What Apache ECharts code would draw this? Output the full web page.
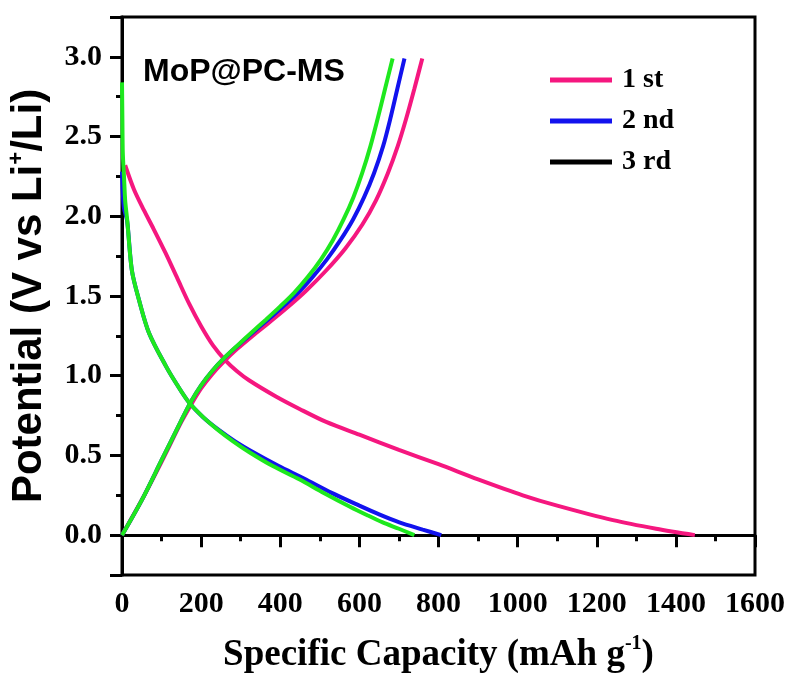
<!DOCTYPE html>
<html>
<head>
<meta charset="utf-8">
<script src="https://cdn.jsdelivr.net/npm/echarts@6/dist/echarts.min.js"></script>
<style>
html,body{margin:0;padding:0;background:#fff;}
#chart{width:795px;height:673px;}
</style>
</head>
<body>
<div id="chart"></div>
<script>
// ---- data (capacity mAh/g, potential V) ----
const seriesNames = ['1 st', '2 nd', '3 rd'];
const cycle1Discharge = [[8,2.32],[30,2.17],[55,2.04],[80,1.92],[110,1.77],[140,1.61],[170,1.45],[200,1.31],[230,1.19],[260,1.10],[290,1.03],[322,0.97],[389,0.87],[450,0.79],[516,0.71],[600,0.63],[700,0.535],[800,0.445],[900,0.35],[1013,0.25],[1100,0.185],[1241,0.094],[1350,0.04],[1448,0.0]];
const cycle1Charge = [[0,0.0],[50,0.22],[100,0.46],[150,0.71],[175,0.82],[200,0.92],[228,1.01],[258,1.09],[292,1.17],[330,1.25],[370,1.33],[414,1.42],[464,1.53],[516,1.66],[565,1.80],[608,1.95],[642,2.10],[672,2.27],[697,2.44],[718,2.61],[739,2.80],[759,2.99]];
const cycle2Discharge = [[0,2.28],[2,2.15],[5,2.05],[13,1.97],[25,1.66],[43,1.475],[68,1.27],[111,1.06],[140,0.94],[170,0.83],[205,0.74],[242,0.665],[285,0.59],[332,0.52],[395,0.435],[460,0.355],[530,0.265],[600,0.185],[650,0.13],[701,0.08],[760,0.035],[807,0.0]];
const cycle2Charge = [[0,0.0],[50,0.22],[100,0.47],[150,0.72],[175,0.84],[200,0.94],[228,1.03],[258,1.11],[293,1.19],[330,1.27],[368,1.35],[405,1.43],[445,1.52],[482,1.62],[518,1.73],[552,1.85],[584,1.98],[612,2.12],[637,2.27],[660,2.44],[678,2.61],[696,2.80],[714,2.99]];
const cycle3Discharge = [[0,2.84],[1,2.6],[2,2.4],[5,2.25],[8,2.1],[13,1.98],[25,1.66],[43,1.475],[68,1.27],[111,1.06],[140,0.94],[170,0.83],[205,0.74],[240,0.665],[280,0.59],[322,0.52],[380,0.435],[448,0.35],[510,0.265],[575,0.18],[620,0.125],[659,0.08],[700,0.04],[739,0.0]];
const cycle3Charge = [[0,0.0],[50,0.22],[100,0.47],[150,0.72],[175,0.84],[200,0.94],[228,1.03],[258,1.11],[292,1.19],[327,1.27],[363,1.35],[398,1.43],[435,1.52],[470,1.62],[503,1.73],[533,1.85],[560,1.98],[585,2.12],[607,2.27],[628,2.44],[646,2.61],[665,2.80],[684,2.99]];
const xMajorTicks = [0,200,400,600,800,1000,1200,1400,1600];
const yLabelTicks = [0,0.5,1.0,1.5,2.0,2.5,3.0];
const yMajorTicks = [-0.25,0,0.5,1.0,1.5,2.0,2.5,3.0,3.25];
const yMinorTicks = [0.25,0.75,1.25,1.75,2.25,2.75];

const colors = ['#f5177f','#1212ee','#1ee81e'];
const serif = 'Liberation Serif';
const sans = 'Liberation Sans';

const chart = echarts.init(document.getElementById('chart'), null, {renderer:'canvas'});

function line(name, data, color) {
  return {
    type:'line', name:name, data:data, xAxisIndex:0, yAxisIndex:0,
    showSymbol:false, smooth:0.3, lineStyle:{color:color,width:4},
    itemStyle:{color:color}, z:3
  };
}

const axisLineStyle = {show:true, lineStyle:{color:'#000', width:3}};

const option = {
  animation:false,
  backgroundColor:'#fff',
  grid:{left:122, right:40, top:17, bottom:98, show:true, borderColor:'#000', borderWidth:3,
        backgroundColor:'transparent', outerBoundsMode:'none', containLabel:false},
  legend:{
    orient:'vertical', left:550, top:66, padding:0, itemWidth:62, itemHeight:5, itemGap:13, icon:'rect',
    textStyle:{fontFamily:serif, fontWeight:'bold', fontSize:28, color:'#000', lineHeight:26, padding:[0,0,0,5]},
    data:[{name:seriesNames[0]},{name:seriesNames[1]},{name:seriesNames[2], itemStyle:{color:'#000'}}]
  },
  xAxis:[{
    type:'value', min:0, max:1600, interval:200, position:'bottom',
    axisLine:axisLineStyle,
    axisTick:{show:true, length:12, customValues:xMajorTicks, lineStyle:{color:'#000', width:3}},
    minorTick:{show:true, splitNumber:2, length:6, lineStyle:{color:'#000', width:3}},
    splitLine:{show:false},
    axisLabel:{customValues:xMajorTicks, margin:14, fontFamily:serif, fontWeight:'bold', fontSize:30, color:'#000',
      formatter:function(v){return String(v);}},
    name:'{a|Specific Capacity (mAh g}{s|-1}{a|)}', nameLocation:'middle', nameGap:59,
    nameTextStyle:{rich:{
      a:{fontFamily:serif, fontWeight:'bold', fontSize:37, color:'#000', verticalAlign:'bottom', lineHeight:40},
      s:{fontFamily:serif, fontWeight:'bold', fontSize:20, color:'#000', verticalAlign:'top', lineHeight:40, padding:[0,0,22,0]}
    }}
  }],
  yAxis:[{
    type:'value', min:-0.25, max:3.25, interval:0.25, position:'left',
    axisLine:axisLineStyle,
    axisTick:{show:true, length:12, customValues:yMajorTicks, lineStyle:{color:'#000', width:3}},
    splitLine:{show:false},
    axisLabel:{customValues:yLabelTicks, margin:20, fontFamily:serif, fontWeight:'bold', fontSize:30, color:'#000',
      formatter:function(v){return v.toFixed(1);}},
    name:'{a|Potential (V vs Li}{s|+}{a|/Li)}', nameLocation:'middle', nameGap:68, nameRotate:90,
    nameTextStyle:{rich:{
      a:{fontFamily:sans, fontWeight:'bold', fontSize:42, color:'#000', lineHeight:46},
      s:{fontFamily:sans, fontWeight:'bold', fontSize:22, color:'#000', lineHeight:46, padding:[0,0,26,0]}
    }}
  },{
    type:'value', min:-0.25, max:3.25, interval:0.25, position:'left',
    axisLine:{show:false},
    axisTick:{show:true, length:6, customValues:yMinorTicks, lineStyle:{color:'#000', width:3}},
    splitLine:{show:false},
    axisLabel:{show:false}
  }],
  graphic:[{
    type:'text', left:143, top:56, z:10,
    style:{text:'MoP@PC-MS', font:'bold 32px "Liberation Sans"', fill:'#000'}
  }],
  series:[
    line(seriesNames[0], cycle1Discharge, colors[0]),
    line(seriesNames[0], cycle1Charge, colors[0]),
    line(seriesNames[1], cycle2Discharge, colors[1]),
    line(seriesNames[1], cycle2Charge, colors[1]),
    line(seriesNames[2], cycle3Discharge, colors[2]),
    line(seriesNames[2], cycle3Charge, colors[2])
  ]
};
chart.setOption(option);
</script>
</body>
</html>
